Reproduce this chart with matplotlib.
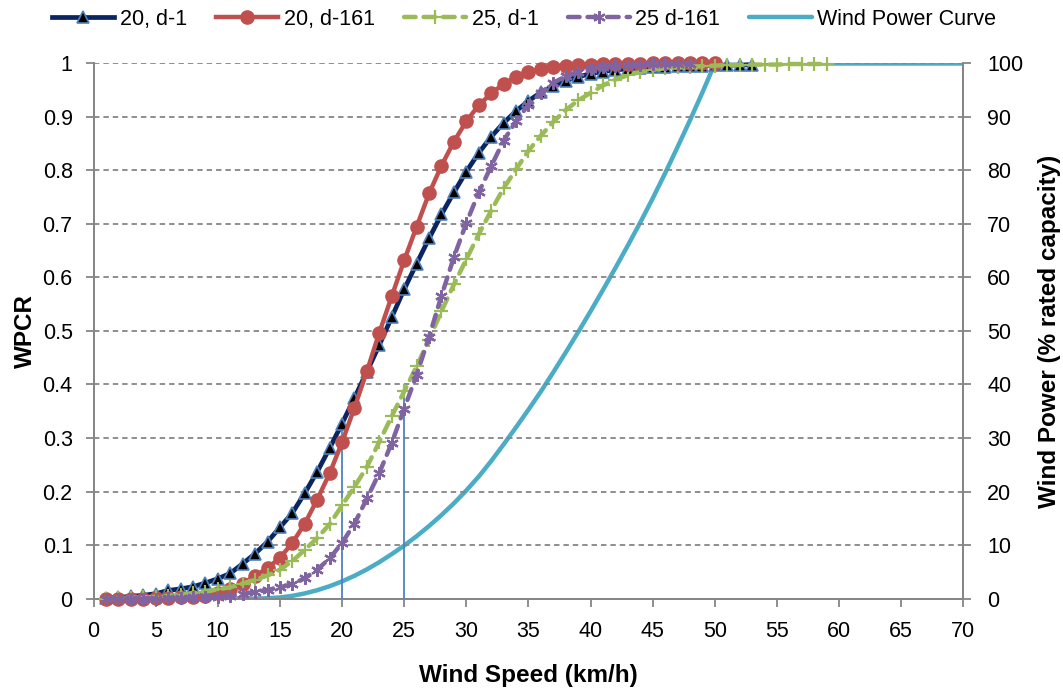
import numpy as np
import matplotlib
matplotlib.use('Agg')
from matplotlib import pyplot as plt

plt.rcParams['font.family'] = ['Liberation Sans', 'DejaVu Sans']

## donnees (WPCR par vitesse de vent, km/h)

vit_20_d1 = list(range(1, 54))
wpcr_20_d1 = [0.001, 0.002, 0.004, 0.006, 0.009, 0.015, 0.018, 0.022, 0.029, 0.037,
              0.047, 0.065, 0.084, 0.106, 0.133, 0.160, 0.197, 0.237, 0.281, 0.327,
              0.375, 0.424, 0.474, 0.526, 0.578, 0.626, 0.673, 0.718, 0.759, 0.798,
              0.833, 0.863, 0.889, 0.911, 0.930, 0.946, 0.958, 0.968, 0.975, 0.981,
              0.985, 0.988, 0.990, 0.992, 0.993, 0.994, 0.995, 0.996, 0.996, 0.997,
              0.997, 0.997, 0.998]

vit_20_d161 = list(range(1, 51))
wpcr_20_d161 = [0.0, 0.0, 0.0, 0.0, 0.001, 0.001, 0.002, 0.003, 0.005, 0.010,
                0.017, 0.028, 0.042, 0.057, 0.076, 0.104, 0.140, 0.185, 0.234, 0.292,
                0.357, 0.425, 0.497, 0.565, 0.632, 0.695, 0.757, 0.809, 0.854, 0.892,
                0.922, 0.944, 0.962, 0.975, 0.984, 0.989, 0.993, 0.996, 0.997, 0.998,
                0.999, 0.999, 0.999, 0.999, 1.0, 1.0, 1.0, 1.0, 1.0, 1.0]

vit_25_d1 = list(range(1, 60))
wpcr_25_d1 = [0.0, 0.001, 0.001, 0.002, 0.003, 0.005, 0.007, 0.010, 0.013, 0.017,
              0.021, 0.028, 0.035, 0.043, 0.054, 0.070, 0.091, 0.113, 0.139, 0.174,
              0.209, 0.246, 0.293, 0.341, 0.387, 0.434, 0.484, 0.537, 0.587, 0.634,
              0.681, 0.725, 0.767, 0.802, 0.837, 0.865, 0.891, 0.913, 0.931, 0.945,
              0.959, 0.970, 0.978, 0.984, 0.988, 0.991, 0.993, 0.994, 0.995, 0.996,
              0.997, 0.997, 0.998, 0.998, 0.998, 0.999, 0.999, 0.999, 0.999]

vit_25_d161 = list(range(1, 49))
wpcr_25_d161 = [0.0, 0.0, 0.0, 0.0, 0.0, 0.001, 0.001, 0.002, 0.002, 0.003,
                0.005, 0.008, 0.012, 0.016, 0.021, 0.027, 0.038, 0.054, 0.075, 0.104,
                0.140, 0.187, 0.235, 0.291, 0.355, 0.418, 0.489, 0.566, 0.638, 0.702,
                0.759, 0.808, 0.856, 0.892, 0.923, 0.945, 0.964, 0.976, 0.985, 0.990,
                0.994, 0.996, 0.997, 0.998, 0.999, 0.999, 0.999, 0.999]

# courbe de puissance de l'eolienne (% puissance nominale), 11 a 50 km/h puis 70
vit_courbe = list(range(11, 51)) + [70]
puissance = [0.0, 0.0, 0.0, 0.05, 0.2, 0.5, 0.95, 1.55, 2.3, 3.2,
             4.25, 5.45, 6.8, 8.3, 9.9, 11.65, 13.55, 15.6, 17.8, 20.2,
             22.8, 25.7, 28.8, 32.0, 35.3, 38.7, 42.3, 46.0, 49.8, 53.7,
             57.7, 61.8, 66.0, 70.3, 74.8, 79.5, 84.4, 89.4, 94.6, 100.0,
             100.0]

# vitesses reperees par un trait vertical
vit_reperes = [20, 25]

## figure

fig = plt.figure(figsize=(10.63, 6.9), dpi=100)
ax = fig.add_axes([0.088, 0.1326, 0.8183, 0.7754])
ax2 = ax.twinx()

gris = '#868686'

# traits verticaux jusqu'a la courbe d-1 correspondante
ax.vlines(vit_reperes[0], 0, wpcr_20_d1[vit_20_d1.index(vit_reperes[0])],
          color='#4F81BD', lw=1.3, zorder=3)
ax.vlines(vit_reperes[1], 0, wpcr_25_d1[vit_25_d1.index(vit_reperes[1])],
          color='#4F81BD', lw=1.3, zorder=3)

l1, = ax.plot(vit_20_d1, wpcr_20_d1, color='#0B2560', lw=3.4, marker='^', ms=8.5,
              mfc='black', mec='#4F81BD', mew=1.2, label='20, d-1', clip_on=False, zorder=4)
l2, = ax.plot(vit_20_d161, wpcr_20_d161, color='#C0504D', lw=3.2, marker='o', ms=9.5,
              mfc='#C0504D', mec='#C0504D', label='20, d-161', clip_on=False, zorder=5)
l3, = ax.plot(vit_25_d1, wpcr_25_d1, color='#9BBB59', lw=3.2, ls=(0, (2.6, 1.8)),
              dash_capstyle='round', marker='+', ms=10, mew=1.6,
              label='25, d-1', clip_on=False, zorder=6)
l4, = ax.plot(vit_25_d161, wpcr_25_d161, color='#8064A2', lw=3.2, ls=(0, (2.6, 1.8)),
              dash_capstyle='round', marker=(6, 2, 0), ms=9, mew=1.6,
              label='25 d-161', clip_on=False, zorder=7)

l5, = ax2.plot(vit_courbe, puissance, color='#4BACC6', lw=3.2, label='Wind Power Curve',
               solid_capstyle='round', solid_joinstyle='round', zorder=2)

ax.set_zorder(ax2.get_zorder() + 1)
ax.patch.set_visible(False)

ax.set_xlim(0, 70)
ax.set_ylim(0, 1)
ax2.set_ylim(0, 100)
ax.set_xticks(np.arange(0, 71, 5))
ax.set_yticks(np.arange(0, 1.01, 0.1))
ax.set_yticklabels(['0', '0.1', '0.2', '0.3', '0.4', '0.5', '0.6', '0.7', '0.8', '0.9', '1'])
ax2.set_yticks(np.arange(0, 101, 10))

for y in np.arange(0.1, 1.01, 0.1):
    ax.axhline(y, color=gris, lw=1.3, ls=(0, (3, 2.2)), zorder=1)

for a in (ax, ax2):
    a.spines['top'].set_visible(False)
    for s in ('left', 'right', 'bottom'):
        a.spines[s].set_color(gris)
        a.spines[s].set_linewidth(1.4)
    a.tick_params(direction='out', length=6, width=1.3, color=gris, labelsize=15.5)
ax.tick_params(axis='y', pad=9)
ax.tick_params(axis='x', pad=10)
ax2.tick_params(axis='y', pad=11)

ax.set_xlabel('Wind Speed (km/h)', fontsize=17.5, fontweight='bold', labelpad=16)
ax.set_ylabel('WPCR', fontsize=17.5, fontweight='bold', labelpad=4)
ax2.set_ylabel('Wind Power (% rated capacity)', fontsize=17.5, fontweight='bold', labelpad=11)

fig.legend(handles=[l1, l2, l3, l4, l5], loc='center', bbox_to_anchor=(0.493, 0.972),
           ncol=5, frameon=False, fontsize=15.5, handlelength=2.9, handletextpad=0.25,
           columnspacing=1.35, borderaxespad=0)

plt.savefig('out.png', dpi=100)
